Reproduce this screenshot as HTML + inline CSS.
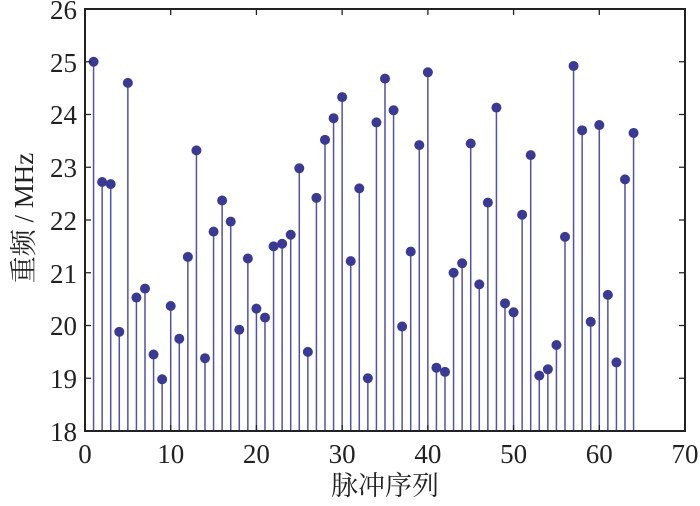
<!DOCTYPE html>
<html><head><meta charset="utf-8"><style>
body{margin:0;background:#fff}
text{font-family:"Liberation Serif","Noto Serif CJK SC",serif;fill:#222}
</style></head><body>
<svg width="700" height="501" xmlns="http://www.w3.org/2000/svg">
<g stroke="#5252a8" stroke-width="1.5">
<path d="M93.57 431V61.75M102.14 431V182.02M110.71 431V184.13M119.29 431V331.83M127.86 431V82.85M136.43 431V297.54M145 431V288.57M153.57 431V354.51M162.14 431V379.3M170.71 431V305.98M179.29 431V338.69M187.86 431V256.92M196.43 431V150.37M205 431V358.2M213.57 431V231.6M222.14 431V200.48M230.71 431V221.58M239.29 431V329.72M247.86 431V258.51M256.43 431V308.62M265 431V317.59M273.57 431V246.37M282.14 431V243.74M290.71 431V234.77M299.29 431V168.3M307.86 431V351.87M316.43 431V197.84M325 431V139.82M333.57 431V118.19M342.14 431V97.09M350.71 431V261.14M359.29 431V188.35M367.86 431V378.25M376.43 431V122.41M385 431V78.63M393.57 431V110.28M402.14 431V326.55M410.71 431V251.65M419.29 431V145.09M427.86 431V72.3M436.43 431V367.7M445 431V371.92M453.57 431V272.75M462.14 431V263.25M470.71 431V143.51M479.29 431V284.35M487.86 431V202.59M496.43 431V107.64M505 431V303.34M513.57 431V312.31M522.14 431V214.72M530.71 431V155.12M539.29 431V375.61M547.86 431V369.28M556.43 431V345.02M565 431V236.88M573.57 431V65.97M582.14 431V130.32M590.71 431V321.81M599.29 431V125.05M607.86 431V294.9M616.43 431V362.42M625 431V179.38M633.57 431V132.96"/>
</g>
<g fill="#3a3a94">
<circle cx="93.57" cy="61.75" r="5"/><circle cx="102.14" cy="182.02" r="5"/><circle cx="110.71" cy="184.13" r="5"/><circle cx="119.29" cy="331.83" r="5"/><circle cx="127.86" cy="82.85" r="5"/><circle cx="136.43" cy="297.54" r="5"/><circle cx="145" cy="288.57" r="5"/><circle cx="153.57" cy="354.51" r="5"/><circle cx="162.14" cy="379.3" r="5"/><circle cx="170.71" cy="305.98" r="5"/><circle cx="179.29" cy="338.69" r="5"/><circle cx="187.86" cy="256.92" r="5"/><circle cx="196.43" cy="150.37" r="5"/><circle cx="205" cy="358.2" r="5"/><circle cx="213.57" cy="231.6" r="5"/><circle cx="222.14" cy="200.48" r="5"/><circle cx="230.71" cy="221.58" r="5"/><circle cx="239.29" cy="329.72" r="5"/><circle cx="247.86" cy="258.51" r="5"/><circle cx="256.43" cy="308.62" r="5"/><circle cx="265" cy="317.59" r="5"/><circle cx="273.57" cy="246.37" r="5"/><circle cx="282.14" cy="243.74" r="5"/><circle cx="290.71" cy="234.77" r="5"/><circle cx="299.29" cy="168.3" r="5"/><circle cx="307.86" cy="351.87" r="5"/><circle cx="316.43" cy="197.84" r="5"/><circle cx="325" cy="139.82" r="5"/><circle cx="333.57" cy="118.19" r="5"/><circle cx="342.14" cy="97.09" r="5"/><circle cx="350.71" cy="261.14" r="5"/><circle cx="359.29" cy="188.35" r="5"/><circle cx="367.86" cy="378.25" r="5"/><circle cx="376.43" cy="122.41" r="5"/><circle cx="385" cy="78.63" r="5"/><circle cx="393.57" cy="110.28" r="5"/><circle cx="402.14" cy="326.55" r="5"/><circle cx="410.71" cy="251.65" r="5"/><circle cx="419.29" cy="145.09" r="5"/><circle cx="427.86" cy="72.3" r="5"/><circle cx="436.43" cy="367.7" r="5"/><circle cx="445" cy="371.92" r="5"/><circle cx="453.57" cy="272.75" r="5"/><circle cx="462.14" cy="263.25" r="5"/><circle cx="470.71" cy="143.51" r="5"/><circle cx="479.29" cy="284.35" r="5"/><circle cx="487.86" cy="202.59" r="5"/><circle cx="496.43" cy="107.64" r="5"/><circle cx="505" cy="303.34" r="5"/><circle cx="513.57" cy="312.31" r="5"/><circle cx="522.14" cy="214.72" r="5"/><circle cx="530.71" cy="155.12" r="5"/><circle cx="539.29" cy="375.61" r="5"/><circle cx="547.86" cy="369.28" r="5"/><circle cx="556.43" cy="345.02" r="5"/><circle cx="565" cy="236.88" r="5"/><circle cx="573.57" cy="65.97" r="5"/><circle cx="582.14" cy="130.32" r="5"/><circle cx="590.71" cy="321.81" r="5"/><circle cx="599.29" cy="125.05" r="5"/><circle cx="607.86" cy="294.9" r="5"/><circle cx="616.43" cy="362.42" r="5"/><circle cx="625" cy="179.38" r="5"/><circle cx="633.57" cy="132.96" r="5"/>
</g>
<rect x="85" y="9" width="600" height="422" fill="none" stroke="#222" stroke-width="2"/>
<path stroke="#222" stroke-width="1.3" d="M170.71 431v-6M256.43 431v-6M342.14 431v-6M427.86 431v-6M513.57 431v-6M599.29 431v-6M170.71 9v6M256.43 9v6M342.14 9v6M427.86 9v6M513.57 9v6M599.29 9v6M85 378.25h6M85 325.5h6M85 272.75h6M85 220h6M85 167.25h6M85 114.5h6M85 61.75h6M685 378.25h-6M685 325.5h-6M685 272.75h-6M685 220h-6M685 167.25h-6M685 114.5h-6M685 61.75h-6"/>
<g font-size="27" text-anchor="middle">
<text x="85" y="463">0</text><text x="170.71" y="463">10</text><text x="256.43" y="463">20</text><text x="342.14" y="463">30</text><text x="427.86" y="463">40</text><text x="513.57" y="463">50</text><text x="599.29" y="463">60</text><text x="685" y="463">70</text>
</g>
<g font-size="27" text-anchor="end">
<text x="77" y="441">18</text><text x="77" y="388">19</text><text x="77" y="335">20</text><text x="77" y="283">21</text><text x="77" y="230">22</text><text x="77" y="177">23</text><text x="77" y="124">24</text><text x="77" y="72">25</text><text x="77" y="19">26</text>
</g>
<text x="385" y="495" font-size="27" text-anchor="middle">脉冲序列</text>
<text transform="translate(33,218) rotate(-90)" font-size="27" text-anchor="middle">重频 / MHz</text>
</svg>
</body></html>
